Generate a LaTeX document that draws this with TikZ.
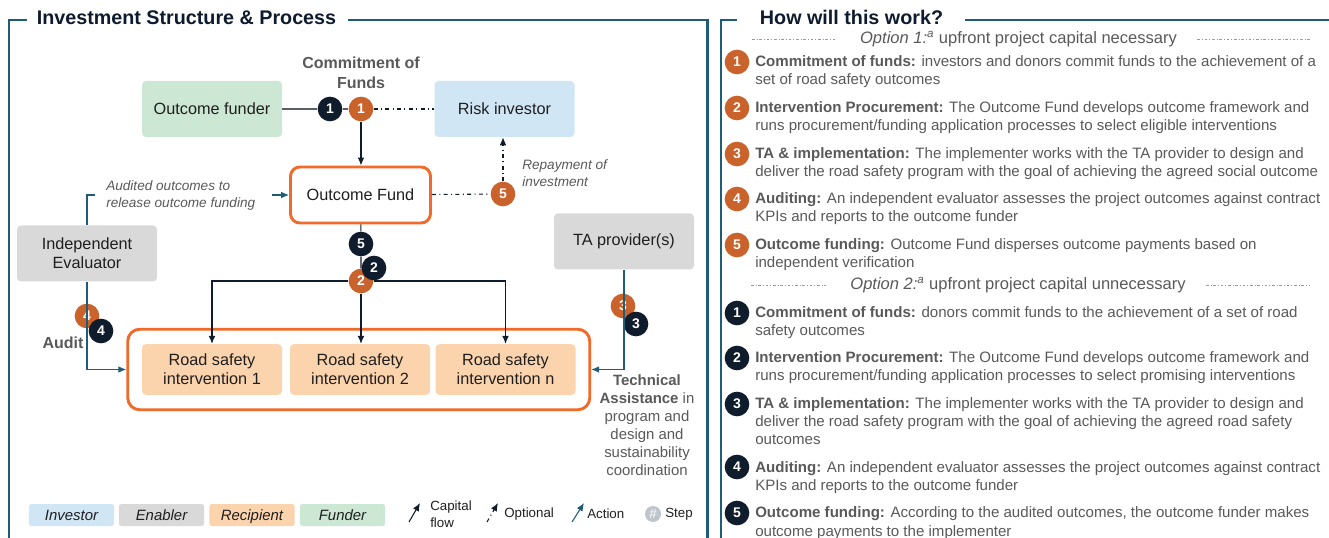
\documentclass[tikz,border=0pt]{standalone}
\usepackage{fontspec}
\setmainfont{Liberation Sans}
\usetikzlibrary{arrows.meta, positioning, calc, fit}
\definecolor{frameteal}{HTML}{1F5C77}
\definecolor{titlenavy}{HTML}{0E1B2E}
\definecolor{stepnavy}{HTML}{0F1C2C}
\definecolor{steporange}{HTML}{C9622B}
\definecolor{fundorange}{HTML}{F06A2A}
\definecolor{invblue}{HTML}{D0E6F5}
\definecolor{enagray}{HTML}{D9D9D9}
\definecolor{recpeach}{HTML}{FBD3AD}
\definecolor{fundgreen}{HTML}{CCE7D4}
\definecolor{txtgray}{HTML}{595959}
\definecolor{linegray}{HTML}{5A5F66}
\definecolor{dashgray}{HTML}{9A9A9A}
\definecolor{stepgray}{HTML}{BDC4CC}

\newcommand{\fstitle}{\fontsize{14.8}{17}\selectfont\bfseries}
\newcommand{\fsbox}{\fontsize{12.2}{14.3}\selectfont}
\newcommand{\fslabel}{\fontsize{12}{15}\selectfont}
\newcommand{\fsnote}{\fontsize{10.2}{12.75}\selectfont}
\newcommand{\fsta}{\fontsize{11.2}{13.5}\selectfont}
\newcommand{\fskey}{\fontsize{10}{12.75}\selectfont}
\newcommand{\fskeybox}{\fontsize{11.2}{13}\selectfont}
\newcommand{\fsstep}{\fontsize{10.5}{12}\selectfont}
\newcommand{\fsitem}{\fontsize{11.3}{13.5}\selectfont}
\newcommand{\fsopt}{\fontsize{12.4}{14}\selectfont}

\begin{document}
\begin{tikzpicture}[x=0.75pt, y=-0.75pt,
    >={Latex[length=6pt, width=5pt]},
    every node/.style={text=black!88},
    box/.style={rounded corners=3pt, minimum width=105pt, minimum height=42pt,
      inner sep=0pt, align=center, font=\fsbox},
    funderbox/.style={box, fill=fundgreen},
    investorbox/.style={box, fill=invblue},
    enablerbox/.style={box, fill=enagray},
    recipbox/.style={box, fill=recpeach, minimum height=38pt},
    fundbox/.style={box, fill=white, draw=fundorange, line width=2.2pt, rounded corners=7pt},
    stepo/.style={circle, fill=steporange, minimum size=18.5pt, inner sep=0pt,
      text=white, font=\fsstep\bfseries},
    stepd/.style={stepo, fill=stepnavy},
    greyline/.style={draw=linegray, line width=1.3pt},
    capline/.style={draw=stepnavy, line width=0.8pt},
    optline/.style={draw=stepnavy, line width=0.8pt, dash pattern=on 3pt off 2.5pt on 0.8pt off 2.5pt},
    actionline/.style={draw=frameteal, line width=0.8pt},
    panelframe/.style={draw=frameteal, line width=1.6pt},
    paneltitle/.style={font=\fstitle, text=titlenavy, anchor=base},
    notetext/.style={font=\fsnote\itshape, text=txtgray, align=left},
    keybox/.style={rounded corners=2pt, minimum width=64pt, minimum height=16.5pt,
      text height=8pt, text depth=0pt, font=\fskeybox\itshape, inner sep=0pt},
    keytxt/.style={font=\fskey, anchor=west, align=left, inner sep=0pt},
    % base of a multi-line node is its last line
    listtext/.style={font=\fsitem, text=txtgray, align=left, anchor=base west, inner sep=0pt},
    dashsep/.style={draw=dashgray, line width=0.5pt, dash pattern=on 2pt off 1.5pt on 0.5pt off 1.5pt},
    opttext/.style={font=\fsopt, text=txtgray, inner sep=0pt},
  ]
  \useasboundingbox (0,0) rectangle (1329,538);

  % Panel frames
  \node[paneltitle] (ltitle) at (186.5,25) {Investment Structure \& Process};
  \draw[panelframe] (27,20) -- (9,20) -- (9,545);
  \draw[panelframe] (348,20) -- (707.5,20) -- (707.5,545);
  \node[paneltitle] (rtitle) at (851.5,25) {How will this work?};
  \draw[panelframe] (737,20) -- (721,20) -- (721,545);
  \draw[panelframe] (965,20) -- (1335,20);

  % Actors
  \node[funderbox] (funder) at (212,109) {Outcome funder};
  \node[investorbox] (investor) at (504.5,109) {Risk investor};
  \node[fundbox] (fund) at (360.5,195) {Outcome Fund};
  \node[enablerbox] (evaluator) at (87,253.5) {Independent\\Evaluator};
  \node[enablerbox] (taprov) at (624,241.5) {TA provider(s)};
  \node[recipbox] (int1) at (212,369.5) {Road safety\\intervention 1};
  \node[recipbox] (int2) at (360,369.5) {Road safety\\intervention 2};
  \node[recipbox] (intn) at (505.5,369.5) {Road safety\\intervention n};
  \node[fit=(int1)(int2)(intn), draw=fundorange, line width=2.2pt, rounded corners=9pt,
    inner xsep=10.5pt, inner ysep=11pt] (grp) {};

  % Labels
  \node[font=\fslabel\bfseries, text=txtgray, align=center] (commit) at (361,73) {Commitment of\\Funds};
  \node[notetext, anchor=west, inner sep=0pt] (repay) at (522,173.5) {Repayment of\\investment};
  \node[notetext, anchor=west, inner sep=0pt] (audtxt) at (106,195) {Audited outcomes to\\release outcome funding};
  \node[font=\fslabel\bfseries, text=txtgray] (audit) at (63,343) {Audit};
  \node[font=\fsta, text=txtgray, align=center] (tatxt) at (647,425.5)
    {\textbf{Technical}\\\textbf{Assistance} in\\program and\\design and\\sustainability\\coordination};

  % Steps
  \node[stepd] (d1) at (330,109) {1};
  \node[stepo] (o1) at (361,109) {1};
  \node[stepo] (o5) at (503,194) {5};
  \node[stepd] (d5) at (361,244) {5};
  \node[stepo] (o2) at (361,281) {2};
  \node[stepd] (d2) at (374,268) {2};
  \node[stepo] (o4) at (87,316) {4};
  \node[stepd] (d4) at (101,331) {4};
  \node[stepo] (o3) at (623,306) {3};
  \node[stepd] (d3) at (636,324) {3};

  % Flows
  \draw[greyline] (funder) -- (d1) -- (o1);
  \draw[optline] (o1) -- (investor);
  \draw[capline, ->] (o1) -- (o1 |- fund.north);
  \draw[optline] (fund) -- (o5);
  \draw[optline, ->] (o5) -- (o5 |- investor.south);
  \draw[capline] (fund) -- (d5) -- (o2);
  \draw[capline, ->] (o2) -| (int1.north);
  \draw[capline, ->] (o2) -- (o2 |- int2.north);
  \draw[capline, ->] (o2) -| (intn.north);
  \draw[actionline] (evaluator.north) |- ([xshift=-8pt]audtxt.west);
  \draw[actionline, ->] ([xshift=12.5pt]audtxt.east) -- (fund.west);
  \draw[actionline, ->] (evaluator.south) |- (grp.west);
  \draw[actionline, ->] (taprov.south) |- (grp.east);

  % Legend
  \node[keybox, fill=invblue] (keyinv) at (71.5,515) {Investor};
  \node[keybox, fill=enagray] (keyena) at (161.5,515) {Enabler};
  \node[keybox, fill=recpeach] (keyrec) at (252,515) {Recipient};
  \node[keybox, fill=fundgreen] (keyfun) at (342.5,515) {Funder};
  \draw[capline, ->] (409,522) -- (420,503);
  \node[keytxt] (keycap) at (430,514.5) {Capital\\flow};
  \draw[optline, ->] (487,522) -- (498,503);
  \node[keytxt] (keyopt) at (504,514) {Optional};
  \draw[actionline, ->] (572,522) -- (584,503);
  \node[keytxt] (keyact) at (587,514) {Action};
  \node[circle, fill=stepgray, minimum size=12pt, inner sep=0pt, text=white, font=\fskey] (keystepc) at (653,514) {\#};
  \node[keytxt] (keystep) at (665,514) {Step};

  % Option 1
  \node[opttext] (opt1) at (1018.5,39) {\textit{Option 1:}\textsuperscript{\textit{a}} upfront project capital necessary};
  \draw[dashsep] (752,39) -- ([xshift=-18pt]opt1.west);
  \draw[dashsep] ([xshift=15pt]opt1.east) -- (1311,39);
  \node[stepo] (ra1) at (737,62) {1};
  \node[stepo] (ra2) at (737,108) {2};
  \node[stepo] (ra3) at (737,154) {3};
  \node[stepo] (ra4) at (737,199) {4};
  \node[stepo] (ra5) at (737,245) {5};
  \node[listtext] (la1) at (755,85) {\textbf{Commitment of funds:} investors and donors commit funds to the achievement of a\\set of road safety outcomes};
  \node[listtext] (la2) at (755,131) {\textbf{Intervention Procurement:} The Outcome Fund develops outcome framework and\\runs procurement/funding application processes to select eligible interventions};
  \node[listtext] (la3) at (755,177) {\textbf{TA \& implementation:} The implementer works with the TA provider to design and\\deliver the road safety program with the goal of achieving the agreed social outcome};
  \node[listtext] (la4) at (755,222) {\textbf{Auditing:} An independent evaluator assesses the project outcomes against contract\\KPIs and reports to the outcome funder};
  \node[listtext] (la5) at (755,268) {\textbf{Outcome funding:} Outcome Fund disperses outcome payments based on\\independent verification};

  % Option 2
  \node[opttext] (opt2) at (1018,285) {\textit{Option 2:}\textsuperscript{\textit{a}} upfront project capital unnecessary};
  \draw[dashsep] (751,285) -- ([xshift=-18pt]opt2.west);
  \draw[dashsep] ([xshift=15pt]opt2.east) -- (1310,285);
  \node[stepd] (rb1) at (737,313) {1};
  \node[stepd] (rb2) at (737,358) {2};
  \node[stepd] (rb3) at (737,404) {3};
  \node[stepd] (rb4) at (737,467) {4};
  \node[stepd] (rb5) at (737,513) {5};
  \node[listtext] (lb1) at (755,336) {\textbf{Commitment of funds:} donors commit funds to the achievement of a set of road\\safety outcomes};
  \node[listtext] (lb2) at (755,381) {\textbf{Intervention Procurement:} The Outcome Fund develops outcome framework and\\runs procurement/funding application processes to select promising interventions};
  \node[listtext] (lb3) at (755,445) {\textbf{TA \& implementation:} The implementer works with the TA provider to design and\\deliver the road safety program with the goal of achieving the agreed road safety\\outcomes};
  \node[listtext] (lb4) at (755,490) {\textbf{Auditing:} An independent evaluator assesses the project outcomes against contract\\KPIs and reports to the outcome funder};
  \node[listtext] (lb5) at (755,536) {\textbf{Outcome funding:} According to the audited outcomes, the outcome funder makes\\outcome payments to the implementer};

\end{tikzpicture}
\end{document}
